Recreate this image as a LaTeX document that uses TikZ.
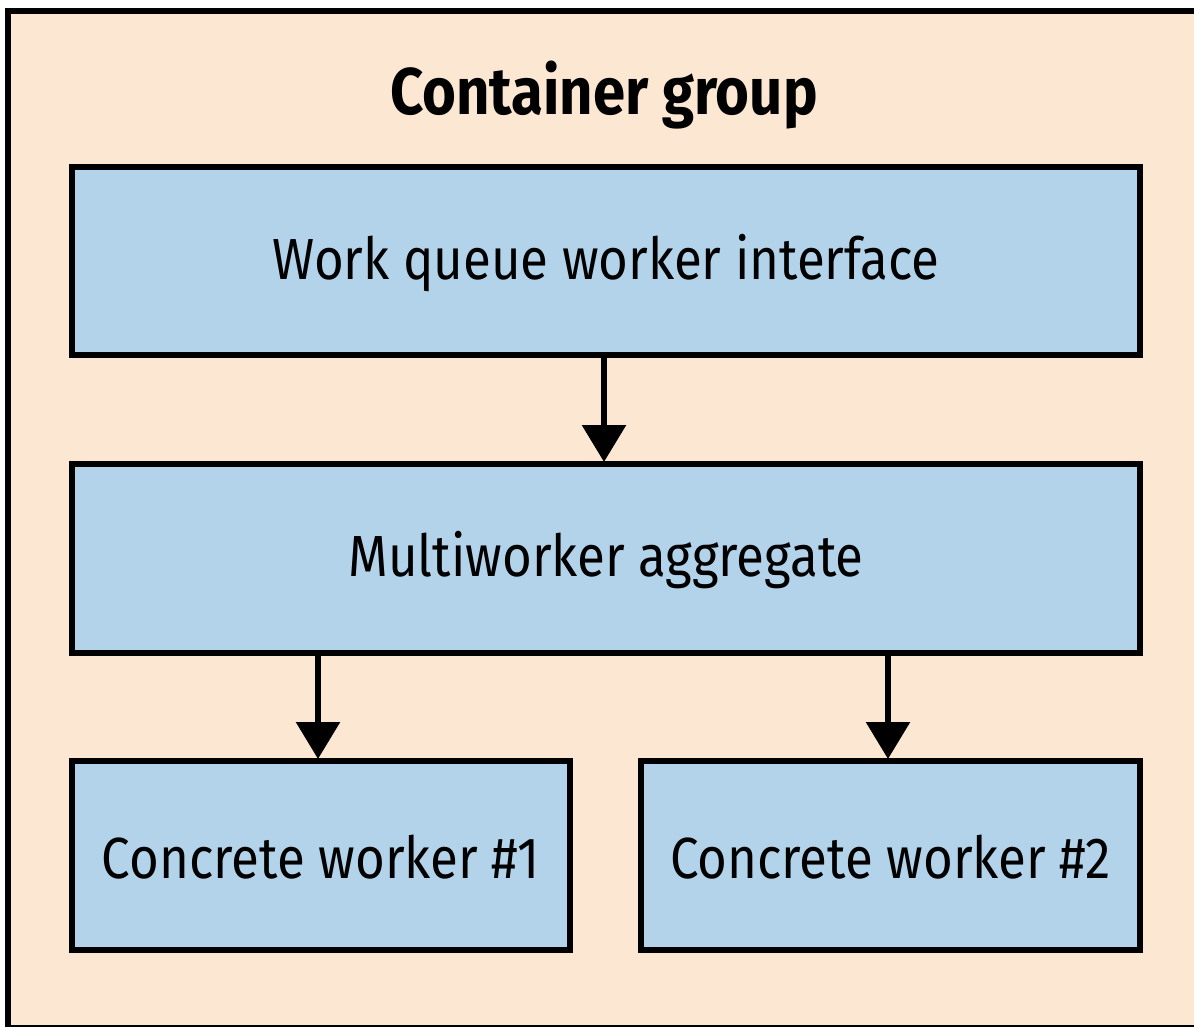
\documentclass[tikz,border=0pt]{standalone}
\usepackage{fontspec}
\setmainfont{Fira Sans}[FakeStretch=0.88]
\usetikzlibrary{arrows.meta}
\definecolor{beige}{HTML}{FCE7D2}
\definecolor{boxblue}{HTML}{B2D3EA}
\tikzset{
  box/.style={draw=black, line width=6pt, fill=boxblue, inner sep=0pt, anchor=north west},
  lbl/.style={font=\fontsize{58}{60}\selectfont},
  arr/.style={line width=6pt, -{Triangle[length=37pt,width=43pt]}, shorten >=-1pt}
}
\begin{document}
\begin{tikzpicture}[x=1pt,y=-1pt]
\useasboundingbox (0,0) rectangle (1194,1027);
\draw[line width=6pt, fill=beige] (8,11) rectangle (1210,1028);
\node[font=\bfseries\fontsize{66}{70}\selectfont] (title) at (604,95) {Container group};
\node[box, minimum width=1068pt, minimum height=188pt] (wq) at (69,164) {};
\node[lbl] at ([yshift=-2pt]wq.center) {Work queue worker interface};
\node[box, minimum width=1068pt, minimum height=189pt] (ma) at (69,461) {};
\node[lbl] at ([yshift=-2pt]ma.center) {Multiworker aggregate};
\node[box, minimum width=498pt, minimum height=189pt] (c1) at (69,758) {};
\node[lbl] at ([yshift=-2pt]c1.center) {Concrete worker \#1};
\node[box, minimum width=499pt, minimum height=189pt] (c2) at (638,758) {};
\node[lbl] at ([yshift=-2pt]c2.center) {Concrete worker \#2};
\draw[arr] (wq.south -| 604,0) -- (ma.north -| 604,0);
\draw[arr] (ma.south -| 318,0) -- (c1.north -| 318,0);
\draw[arr] (ma.south -| 888,0) -- (c2.north -| 888,0);
\end{tikzpicture}
\end{document}
